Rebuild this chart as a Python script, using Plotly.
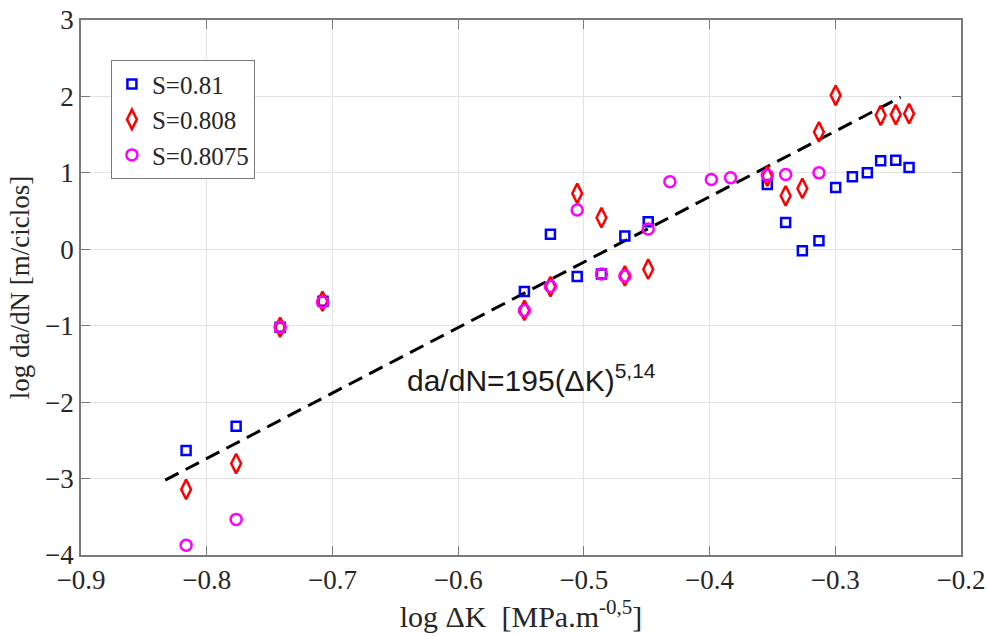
import plotly.graph_objects as go

# S=0.81 (squares)
x_s081 = [-0.8164, -0.7766, -0.7416, -0.7075, -0.5473, -0.5266, -0.5053, -0.4860, -0.4674, -0.4488,
          -0.3541, -0.3395, -0.3262, -0.3130, -0.2997, -0.2864, -0.2745, -0.2639, -0.2519, -0.2413]
y_s081 = [-2.633, -2.316, -1.02, -0.68, -0.553, 0.196, -0.357, -0.322, 0.174, 0.36,
          0.849, 0.352, -0.018, 0.112, 0.809, 0.948, 1.0, 1.157, 1.166, 1.07]

# S=0.808 (diamonds)
x_s0808 = [-0.8164, -0.7766, -0.7416, -0.7079, -0.5473, -0.5266, -0.5053, -0.4860, -0.4674, -0.4488,
           -0.3541, -0.3395, -0.3262, -0.3130, -0.2997, -0.2639, -0.2519, -0.2413]
y_s0808 = [-3.142, -2.803, -1.02, -0.68, -0.80, -0.488, 0.731, 0.413, -0.349, -0.261,
           0.957, 0.70, 0.796, 1.535, 2.014, 1.753, 1.762, 1.775]

# S=0.8075 (circles)
x_s08075 = [-0.8164, -0.7766, -0.7416, -0.7079, -0.5473, -0.5266, -0.5053, -0.4860, -0.4674, -0.4488,
            -0.4316, -0.3986, -0.3833, -0.3541, -0.3395, -0.3130]
y_s08075 = [-3.873, -3.534, -1.02, -0.69, -0.80, -0.488, 0.513, -0.322, -0.349, 0.265,
            0.883, 0.914, 0.935, 0.970, 0.979, 1.0]

# fitted line
x_fit = [-0.833, -0.248]
y_fit = [-3.02, 1.99]

x_ticks = [-0.9, -0.8, -0.7, -0.6, -0.5, -0.4, -0.3, -0.2]
y_ticks = [-4, -3, -2, -1, 0, 1, 2, 3]

serif = "Times New Roman, Liberation Serif, serif"
fig = go.Figure()

fig.add_trace(go.Scatter(
    x=x_fit, y=y_fit, mode="lines", showlegend=False,
    line=dict(color="black", width=3, dash="15px,8px")))

fig.add_trace(go.Scatter(
    x=x_s081, y=y_s081, mode="markers", name="S=0.81",
    marker=dict(symbol="square-open", size=9, color="#0000FF", line=dict(width=2.5, color="#0000FF"))))
fig.add_trace(go.Scatter(
    x=x_s0808, y=y_s0808, mode="markers", name="S=0.808",
    marker=dict(symbol="diamond-tall-open", size=14, color="#FF0000", line=dict(width=2.5, color="#FF0000"))))
fig.add_trace(go.Scatter(
    x=x_s08075, y=y_s08075, mode="markers", name="S=0.8075",
    marker=dict(symbol="circle-open", size=11, color="#FF00FF", line=dict(width=2.5, color="#FF00FF"))))

fig.add_annotation(
    x=-0.642, y=-1.68, xref="x", yref="y", xanchor="left", yanchor="middle",
    text="da/dN=195(ΔK)<sup>5,14</sup>", showarrow=False,
    font=dict(family="Liberation Sans, Arial, sans-serif", size=30, color="#1a1a1a"))

axis_common = dict(
    showgrid=True, gridcolor="#e3e3e3", gridwidth=1,
    showline=True, linecolor="#7a7a7a", linewidth=1.5, mirror="allticks",
    ticks="inside", ticklen=9, tickcolor="#7a7a7a", tickwidth=1,
    zeroline=False, automargin=False,
    tickfont=dict(family=serif, size=27, color="#262626"),
)

fig.update_layout(
    width=987, height=636,
    margin=dict(l=81, r=26, t=20, b=81),
    plot_bgcolor="white", paper_bgcolor="white",
    xaxis=dict(range=[-0.9, -0.2], tickvals=x_ticks, ticktext=[f"{v:.1f}".replace("-", "\u2212") for v in x_ticks],
               title=dict(text="log ΔK  [MPa.m<sup>-0,5</sup>]", font=dict(family=serif, size=30, color="#262626"), standoff=4),
               **axis_common),
    yaxis=dict(range=[-4, 3], tickvals=y_ticks,
               title=dict(text="log da/dN [m/ciclos]", font=dict(family=serif, size=27, color="#262626"), standoff=8),
               **axis_common),
    legend=dict(x=0.034, y=0.925, xanchor="left", yanchor="top",
                bgcolor="white", bordercolor="#7a7a7a", borderwidth=1,
                font=dict(family=serif, size=25, color="#262626"),
                itemwidth=30, tracegroupgap=0),
)

fig.write_html("out.html")
